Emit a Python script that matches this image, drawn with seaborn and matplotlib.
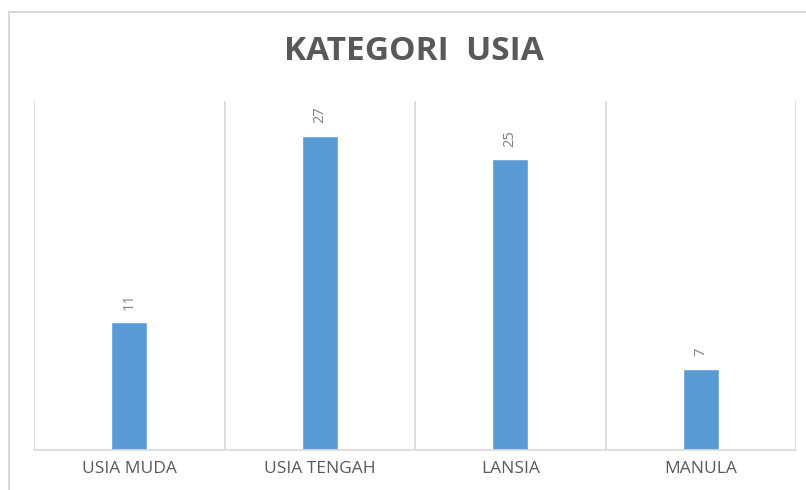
import matplotlib.pyplot as plt
import seaborn as sns
import pandas as pd
from matplotlib.patches import Rectangle

categories = ['USIA MUDA', 'USIA TENGAH', 'LANSIA', 'MANULA']
counts = [11, 27, 25, 7]

df = pd.DataFrame({'kategori': categories, 'jumlah': counts})

sns.set_style('white')
plt.rcParams['font.family'] = ['Open Sans', 'DejaVu Sans']

fig = plt.figure(figsize=(8.06, 4.9), dpi=100)
ax = fig.add_axes([34 / 806, 1 - 450 / 490, 762 / 806, 349 / 490])

sns.barplot(data=df, x='kategori', y='jumlah', color='#5B9BD5', width=0.19,
            saturation=1, ax=ax)

ax.set_xlim(-0.5, 3.5)
ax.set_ylim(0, 30)
ax.set_yticks([])
ax.set_xlabel('')
ax.set_ylabel('')
for s in ['top', 'right', 'left']:
    ax.spines[s].set_visible(False)
ax.spines['bottom'].set_color('#D9D9D9')
ax.spines['bottom'].set_linewidth(1.2)

ax.set_xticks([-0.5, 0.5, 1.5, 2.5, 3.5], minor=True)
ax.grid(True, which='minor', axis='x', color='#D9D9D9', linewidth=1.2)
ax.tick_params(axis='x', which='both', length=0, colors='#595959',
               labelsize=12.5, pad=8)
ax.set_xticks(range(len(categories)))
ax.set_xticklabels(categories)

for i, v in enumerate(counts):
    ax.annotate(str(v), (i, v), xytext=(0, 9), textcoords='offset points',
                rotation=90, ha='center', va='bottom', color='#7F7F7F', fontsize=10.5)

fig.text(414 / 806, 1 - 52 / 490, 'KATEGORI  USIA', ha='center', va='center',
         fontsize=24, fontweight='bold', color='#595959')

fig.patches.append(Rectangle((9 / 806, -0.1), 1.2, 1.1 - 12 / 490,
                             transform=fig.transFigure, fill=False,
                             edgecolor='#D9D9D9', linewidth=1.5))

fig.savefig('out.png', dpi=100)
